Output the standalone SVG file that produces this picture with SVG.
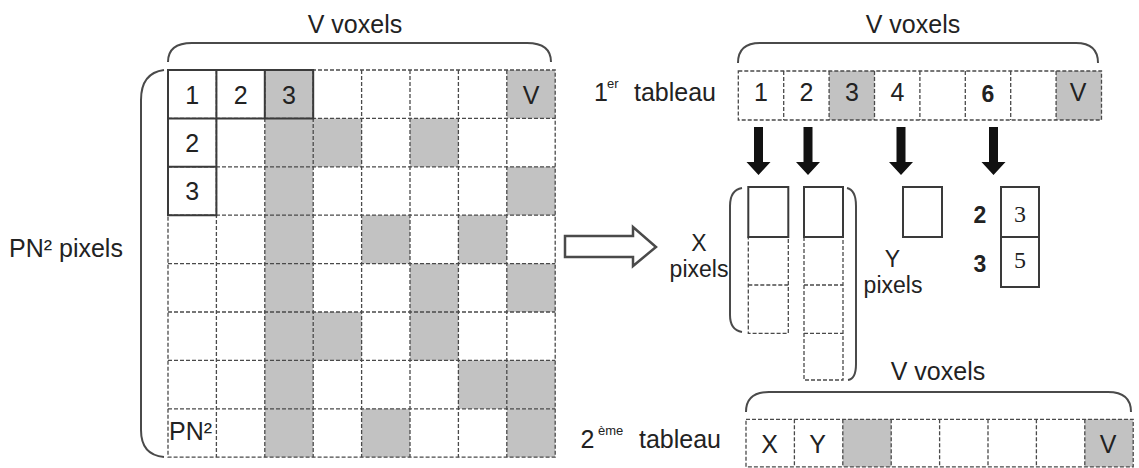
<svg xmlns="http://www.w3.org/2000/svg" width="1139" height="468" viewBox="0 0 1139 468">
<style>
text{font-family:"Liberation Sans",Arial,sans-serif;fill:#222}
.t{font-size:25px}
.c{font-size:25px;text-anchor:middle}
.p{font-size:23px;text-anchor:middle}
.sh{fill:#c2c2c2}
.dash{fill:none;stroke:#4a4a4a;stroke-width:1.3;stroke-dasharray:4 2}
.solid{fill:none;stroke:#3a3a3a;stroke-width:2}
.brace{fill:none;stroke:#4a4a4a;stroke-width:2}
.bold{font-size:23px;font-weight:bold;text-anchor:middle}
.serif{font-size:24px;text-anchor:middle;font-family:"Liberation Serif",serif}
</style>
<rect width="1139" height="468" fill="#fff"/>

<g id="matrix">
  <g id="matrix-shading">
    <rect class="sh" x="264.8" y="70" width="48.4" height="387.2"/>
    <rect class="sh" x="506.8" y="70" width="48.4" height="48.4"/>
    <rect class="sh" x="313.2" y="118.4" width="48.4" height="48.4"/>
    <rect class="sh" x="410" y="118.4" width="48.4" height="48.4"/>
    <rect class="sh" x="506.8" y="166.8" width="48.4" height="48.4"/>
    <rect class="sh" x="361.6" y="215.2" width="48.4" height="48.4"/>
    <rect class="sh" x="458.4" y="215.2" width="48.4" height="48.4"/>
    <rect class="sh" x="410" y="263.6" width="48.4" height="48.4"/>
    <rect class="sh" x="506.8" y="263.6" width="48.4" height="48.4"/>
    <rect class="sh" x="313.2" y="312" width="48.4" height="48.4"/>
    <rect class="sh" x="410" y="312" width="48.4" height="48.4"/>
    <rect class="sh" x="458.4" y="360.4" width="48.4" height="48.4"/>
    <rect class="sh" x="506.8" y="360.4" width="48.4" height="48.4"/>
    <rect class="sh" x="361.6" y="408.8" width="48.4" height="48.4"/>
    <rect class="sh" x="506.8" y="408.8" width="48.4" height="48.4"/>
  </g>
  <g id="matrix-grid">
    <rect class="dash" x="168" y="70" width="387.2" height="387.2"/>
    <path class="dash" d="M216.4,70V457.2M264.8,70V457.2M313.2,70V457.2M361.6,70V457.2M410,70V457.2M458.4,70V457.2M506.8,70V457.2M168,118.4H555.2M168,166.8H555.2M168,215.2H555.2M168,263.6H555.2M168,312H555.2M168,360.4H555.2M168,408.8H555.2"/>
    <path class="solid" d="M168,70H313.2V118.4H168ZM216.4,70V118.4M264.8,70V118.4M168,118.4V215.2H216.4V118.4M168,166.8H216.4"/>
  </g>
  <text class="c" x="192.2" y="104">1</text>
  <text class="c" x="240.6" y="104">2</text>
  <text class="c" x="289" y="104">3</text>
  <text class="c" x="531" y="104">V</text>
  <text class="c" x="192.2" y="152">2</text>
  <text class="c" x="192.2" y="200">3</text>
  <text class="t" x="169" y="440">PN²</text>
</g>

<g id="label-v-voxels-1">
  <path class="brace" d="M168,62 Q168,43 192,43 L527,43 Q551,43 551,62"/>
  <text class="c" x="355" y="33">V voxels</text>
</g>

<g id="label-pn2">
  <path class="brace" d="M164,70 Q141,73 141,100 L141,430 Q141,455 164,457"/>
  <text class="t" x="9" y="257">PN² pixels</text>
</g>

<g id="big-arrow">
  <polygon points="565,236 633,236 633,227 656,247 633,266 633,257 565,257" fill="#fff" stroke="#4a4a4a" stroke-width="2.5" stroke-linejoin="miter"/>
</g>

<g id="table1">
  <path class="brace" d="M738,63 Q738,43 760,43 L1076,43 Q1098,43 1098,63"/>
  <text class="c" x="913" y="33">V voxels</text>
  <text class="t" x="594" y="101">1</text>
  <text x="607" y="88" style="font-size:13px">er</text>
  <text class="t" x="634" y="101">tableau</text>
  <rect class="sh" x="829.1" y="71" width="45.4" height="49"/>
  <rect class="sh" x="1056.1" y="71" width="45.4" height="49"/>
  <rect class="dash" x="738.3" y="71" width="363.2" height="49"/>
  <path class="dash" d="M783.7,71V120M829.1,71V120M874.5,71V120M919.9,71V120M965.3,71V120M1010.7,71V120M1056.1,71V120"/>
  <text class="c" x="761" y="101">1</text>
  <text class="c" x="806.5" y="101">2</text>
  <text class="c" x="852" y="101">3</text>
  <text class="c" x="897.5" y="101">4</text>
  <text x="988" y="102" style="font-size:23px;font-weight:bold;text-anchor:middle">6</text>
  <text class="c" x="1078" y="101">V</text>
</g>

<g id="connectors" fill="#111">
  <polygon points="754,127 763,127 763,162 770.5,162 758.5,175 746.5,162 754,162"/>
  <polygon points="803.5,127 812.5,127 812.5,162 820,162 808,175 796,162 803.5,162"/>
  <polygon points="896.5,127 905.5,127 905.5,162 913,162 901,175 889,162 896.5,162"/>
  <polygon points="989,127 998,127 998,162 1005.5,162 993.5,175 981.5,162 989,162"/>
</g>

<g id="pixels-x">
  <rect class="dash" x="748.3" y="237" width="40" height="96.3"/>
  <path class="dash" d="M748.3,285H788.3"/>
  <rect class="solid" x="748.3" y="187" width="40" height="50"/>
</g>

<g id="pixels-y">
  <rect class="dash" x="804" y="237" width="39" height="143"/>
  <path class="dash" d="M804,285H843M804,333.3H843"/>
  <rect class="solid" x="804" y="187" width="39" height="50"/>
</g>

<g id="label-x-pixels">
  <path class="brace" d="M742,188 Q730,190 730,206 L730,315 Q730,330 742,332"/>
  <text class="p" x="699" y="251">X</text>
  <text class="p" x="699" y="277">pixels</text>
</g>

<g id="label-y-pixels">
  <path class="brace" d="M847,188 Q856,190 856,206 L856,364 Q856,379 848,380"/>
  <text class="p" x="892.5" y="267">Y</text>
  <text class="p" x="893" y="293">pixels</text>
</g>

<g id="box-4">
  <rect class="solid" x="903" y="187" width="39" height="50"/>
</g>

<g id="box-6">
  <rect class="solid" x="1001" y="187" width="38" height="50"/>
  <rect class="solid" x="1001" y="237" width="38" height="50"/>
  <text class="serif" x="1020" y="222">3</text>
  <text class="serif" x="1020" y="268">5</text>
  <text class="bold" x="980" y="223">2</text>
  <text class="bold" x="980" y="272">3</text>
</g>

<g id="table2">
  <text class="c" x="938" y="380">V voxels</text>
  <path class="brace" d="M746,412 Q746,392 769,392 L1108,392 Q1131,392 1131,412"/>
  <text class="t" x="580.5" y="448">2</text>
  <text x="598" y="435" style="font-size:13px">ème</text>
  <text class="t" x="639" y="448">tableau</text>
  <rect class="sh" x="842.8" y="419.3" width="48.4" height="47.5"/>
  <rect class="sh" x="1084.8" y="419.3" width="48.4" height="47.5"/>
  <rect class="dash" x="746" y="419.3" width="387.2" height="47.5"/>
  <path class="dash" d="M794.4,419.3V466.8M842.8,419.3V466.8M891.2,419.3V466.8M939.6,419.3V466.8M988,419.3V466.8M1036.4,419.3V466.8M1084.8,419.3V466.8"/>
  <text class="c" x="769.5" y="453">X</text>
  <text class="c" x="817.5" y="453">Y</text>
  <text class="c" x="1108" y="453">V</text>
</g>
</svg>
